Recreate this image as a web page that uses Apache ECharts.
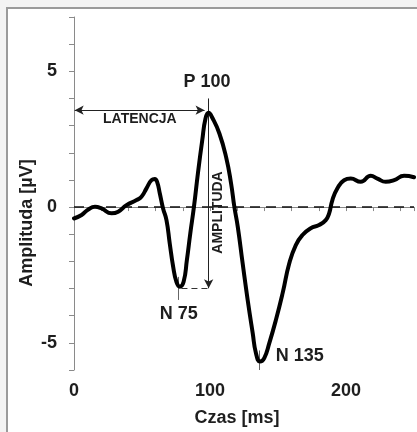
<!DOCTYPE html>
<html>
<head>
<meta charset="utf-8">
<script src="https://cdn.jsdelivr.net/npm/echarts@6/dist/echarts.min.js"></script>
<style>
  html, body { margin: 0; padding: 0; background: #f3f3f3; }
  #chart { width: 417px; height: 432px; }
</style>
</head>
<body>
<div id="chart"></div>
<script>
// czas [ms] i amplituda [µV]
const times = [0, 5.6, 10.5, 15.4, 20.3, 27.6, 32.5, 38.6, 46, 49.6, 53.3, 57, 59.4, 61.1, 63.1,
  65.5, 68, 70.4, 72.9, 75.3, 77.8, 80.6, 83, 85.5, 88.2, 91.1, 94.3, 96.7, 98.9, 102, 106.9,
  111.8, 115.5, 117.9, 120.4, 124, 127.7, 131.4, 133.8, 136.8, 139.9, 143.6, 148.5, 153.4,
  158.3, 163.1, 168, 174.1, 180.2, 185.1, 187.6, 190, 193.7, 198.6, 203.5, 210.8, 218.2,
  223.1, 229.2, 235.4, 242.7, 250];
const amps = [-0.42, -0.29, -0.09, 0.01, -0.05, -0.23, -0.17, 0.07, 0.26, 0.38, 0.69, 0.99, 1.03, 0.93, 0.5,
  -0.05, -0.48, -1.34, -2.19, -2.75, -2.93, -2.75, -1.95, -0.97, 0.01, 1.24, 2.46, 3.26, 3.47, 3.26, 2.71,
  1.85, 0.87, 0.01, -0.72, -2.07, -3.42, -4.64, -5.38, -5.69, -5.56, -5.01, -4.15, -3.17,
  -2.07, -1.4, -1.03, -0.78, -0.66, -0.48, -0.23, 0.26, 0.69, 0.99, 1.05, 0.93, 1.15,
  1.05, 0.93, 0.99, 1.15, 1.1];

// opisy załamków i pomiarów
const peakNames = ['P 100', 'N 75', 'N 135'];
const peakLatency = [99, 77, 136.3];
const peakAmp = [3.47, -2.93, -5.69];
const latencyLabel = 'LATENCJA';
const amplitudeLabel = 'AMPLITUDA';

const txt = '#1e1e1e';
const font = 'bold 18px "Liberation Sans", Arial, sans-serif';

const chart = echarts.init(document.getElementById('chart'));

const option = {
  backgroundColor: '#f3f3f3',
  animation: false,
  grid: { left: 74, top: 17, right: 2, bottom: 62 },
  xAxis: {
    type: 'value',
    min: 0,
    max: 250,
    interval: 20,
    axisLine: { lineStyle: { color: '#8a8a8a', width: 1 } },
    axisTick: { show: true, inside: false, length: 4, lineStyle: { color: '#8a8a8a' } },
    splitLine: { show: false },
    axisLabel: {
      margin: 12,
      color: txt,
      fontFamily: 'Liberation Sans',
      fontWeight: 'bold',
      fontSize: 18,
      formatter: v => (v % 100 === 0 ? String(v) : ''),
    },
  },
  yAxis: {
    type: 'value',
    min: -6,
    max: 7,
    interval: 1,
    axisLine: { show: true, lineStyle: { color: '#8a8a8a', width: 1 } },
    axisTick: { show: true, length: 5, lineStyle: { color: '#8a8a8a' } },
    splitLine: { show: false },
    axisLabel: {
      margin: 17,
      color: txt,
      fontFamily: 'Liberation Sans',
      fontWeight: 'bold',
      fontSize: 18,
      formatter: v => (v % 5 === 0 ? String(v) : ''),
    },
  },
  graphic: [
    {
      type: 'rect',
      z: -10,
      shape: { x: 7, y: 8, width: 430, height: 440 },
      style: { fill: '#ffffff', stroke: '#9a9a9a', lineWidth: 2 },
    },
    {
      type: 'text',
      x: 27,
      y: 223,
      rotation: Math.PI / 2,
      style: { text: 'Amplituda [µV]', font: font, fill: txt, textAlign: 'center', textVerticalAlign: 'middle' },
    },
    {
      type: 'text',
      x: 237,
      y: 418,
      style: { text: 'Czas [ms]', font: font, fill: txt, textAlign: 'center', textVerticalAlign: 'middle' },
    },
  ],
  series: [
    {
      type: 'line',
      data: times.map((t, i) => [t, amps[i]]),
      smooth: 0.5,
      symbol: 'none',
      lineStyle: { color: '#000', width: 4, join: 'round', cap: 'round' },
      z: 5,
      markLine: {
        silent: true,
        symbol: ['none', 'none'],
        label: { show: false },
        lineStyle: { color: '#222', width: 1, type: 'solid' },
        data: [
          // linia zerowa
          [
            { coord: [0, 0], lineStyle: { color: '#111', width: 1.5, type: [10, 6] } },
            { coord: [250, 0] },
          ],
          // latencja
          [
            { coord: [0.5, 3.57], symbol: 'arrow', symbolSize: [7, 9] },
            { coord: [96, 3.57], symbol: 'arrow', symbolSize: [7, 9] },
          ],
          // amplituda
          [
            { coord: [peakLatency[0], 4.0] },
            { coord: [peakLatency[0], -2.99], symbol: 'arrow', symbolSize: [7, 9] },
          ],
          [
            { coord: [79, -2.98], lineStyle: { type: [6, 4], color: '#333' } },
            { coord: [peakLatency[0], -2.98] },
          ],
          // znaczniki załamków
          [
            { coord: [peakLatency[1], -2.57], lineStyle: { color: '#666' } },
            { coord: [peakLatency[1], -3.42] },
          ],
          [
            { coord: [peakLatency[2], -5.28], lineStyle: { color: '#666' } },
            { coord: [peakLatency[2], -6] },
          ],
        ],
      },
      markPoint: {
        silent: true,
        symbol: 'circle',
        symbolSize: 0,
        label: {
          show: true,
          position: 'inside',
          color: txt,
          fontFamily: 'Liberation Sans',
          fontWeight: 'bold',
          fontSize: 18,
          formatter: p => p.name,
        },
        data: [
          { name: peakNames[0], coord: [97.8, 4.61] },
          { name: peakNames[1], coord: [77, -3.93] },
          { name: peakNames[2], coord: [166, -5.48] },
          { name: latencyLabel, coord: [48.4, 3.24], label: { fontSize: 14 } },
          { name: amplitudeLabel, coord: [105.7, -0.2], label: { fontSize: 14, rotate: 90 } },
        ],
      },
    },
  ],
};

chart.setOption(option);
</script>
</body>
</html>
